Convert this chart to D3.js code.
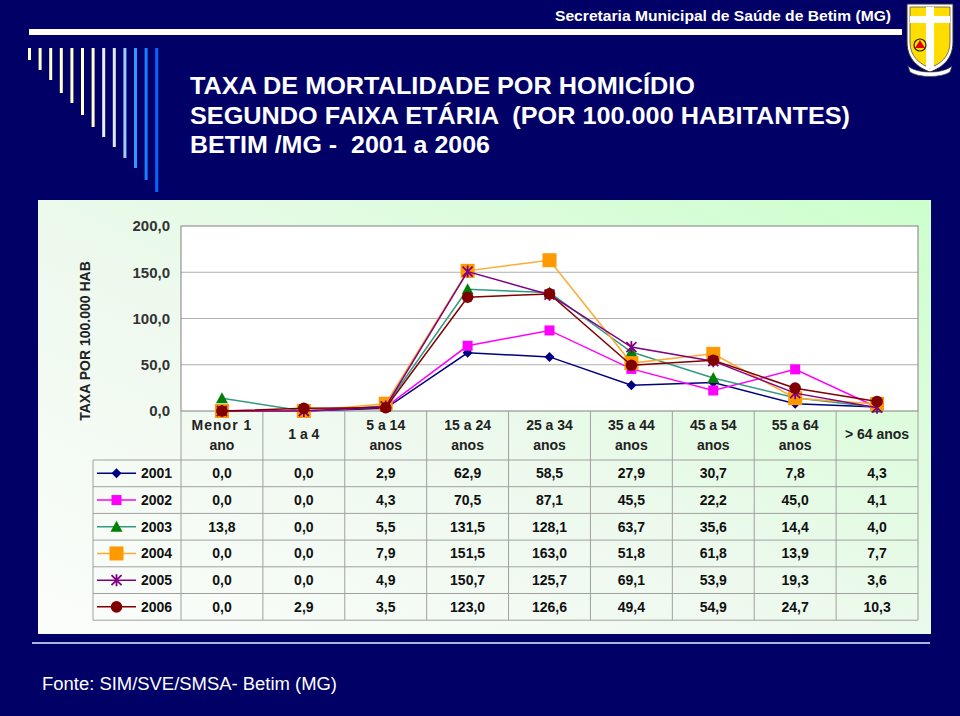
<!DOCTYPE html>
<html><head><meta charset="utf-8">
<script src="https://cdn.jsdelivr.net/npm/d3@7"></script>
<style>html,body{margin:0;padding:0;background:#000066;}svg{display:block;}</style>
</head><body>
<svg id="c" width="960" height="716"></svg>
<script>
const categories = ["Menor 1\nano","1 a 4","5 a 14\nanos","15 a 24\nanos","25 a 34\nanos","35 a 44\nanos","45 a 54\nanos","55 a 64\nanos","> 64 anos"];
const years = ["2001","2002","2003","2004","2005","2006"];
const v2001 = [0.0,0.0,2.9,62.9,58.5,27.9,30.7,7.8,4.3];
const v2002 = [0.0,0.0,4.3,70.5,87.1,45.5,22.2,45.0,4.1];
const v2003 = [13.8,0.0,5.5,131.5,128.1,63.7,35.6,14.4,4.0];
const v2004 = [0.0,0.0,7.9,151.5,163.0,51.8,61.8,13.9,7.7];
const v2005 = [0.0,0.0,4.9,150.7,125.7,69.1,53.9,19.3,3.6];
const v2006 = [0.0,2.9,3.5,123.0,126.6,49.4,54.9,24.7,10.3];
const yTicks = [0,50,100,150,200];

const seriesValues = [v2001,v2002,v2003,v2004,v2005,v2006];
const lineColors = ["#000080","#ff00ff","#339980","#ffaa33","#800080","#800000"];
const markColors = ["#000080","#ff00ff","#008000","#ff9900","#800080","#800000"];
const markTypes = ["diamond","square","triangle","bigsquare","star","circle"];

const fmt = v => v.toFixed(1).replace(".", ",");
const svg = d3.select("#c");
const defs = svg.append("defs");
const font = "'Liberation Sans',Arial,sans-serif";

svg.append("rect").attr("width",960).attr("height",716).attr("fill","#000066");

// header
svg.append("text").attr("x",891).attr("y",21).attr("text-anchor","end")
  .attr("fill","#ffffff").attr("font-family",font)
  .attr("font-weight","bold").attr("font-size",14)
  .attr("textLength",336).attr("lengthAdjust","spacingAndGlyphs")
  .text("Secretaria Municipal de Saúde de Betim (MG)");
svg.append("rect").attr("x",29).attr("y",29).attr("width",873).attr("height",6).attr("fill","#ffffff");

// decorative stripes
const stripeEnds = [60,70,80,93,103,115,127,137,147,158,168,180,192];
const stripeCols = ["#ffffcc","#ffffcc","#ffffcc","#ffffcc","#ffffcc","#ffffcc","#ffffcc","#e6f0ff","#ddeaff","#99ccff","#3399ff","#1a80ff","#0066ff"];
svg.append("g").selectAll("rect").data(stripeEnds).join("rect")
  .attr("x",(d,i)=>28+i*10.6).attr("y",48).attr("width",3)
  .attr("height",d=>d-48).attr("fill",(d,i)=>stripeCols[i]);

// title
const titleLines = ["TAXA DE MORTALIDADE POR HOMICÍDIO","SEGUNDO FAIXA ETÁRIA  (POR 100.000 HABITANTES)","BETIM /MG -  2001 a 2006"];
const titleW = [505,660,300];
const titleY = [94,124,153];
svg.append("g").selectAll("text").data(titleLines).join("text")
  .attr("x",190).attr("y",(d,i)=>titleY[i]).attr("fill","#ffffff")
  .attr("font-family",font).attr("font-weight","bold")
  .attr("font-size",23).attr("textLength",(d,i)=>titleW[i]).attr("lengthAdjust","spacingAndGlyphs")
  .attr("xml:space","preserve")
  .text(d=>d);

// logo
const logo = svg.append("g").attr("transform","translate(905,2)");
logo.append("path").attr("d","M2,2 H48 V40 C48,58 36,66 25,70 C14,66 2,58 2,40 Z")
  .attr("fill","#ffffff").attr("stroke","#333").attr("stroke-width",1);
logo.append("path").attr("d","M5,5 H45 V40 C45,55 35,62 25,66 C15,62 5,55 5,40 Z")
  .attr("fill","#ffdd00").attr("stroke","#555").attr("stroke-width",0.8);
logo.append("rect").attr("x",21).attr("y",5).attr("width",8).attr("height",61).attr("fill","#ffffff");
logo.append("rect").attr("x",5).attr("y",14).attr("width",40).attr("height",7).attr("fill","#ffffff");
logo.append("circle").attr("cx",15).attr("cy",43).attr("r",6).attr("fill","#ffdd00").attr("stroke","#222").attr("stroke-width",1.2);
logo.append("path").attr("d","M15,38 L20,46 L10,46 Z").attr("fill","#e00000");
logo.append("path").attr("d","M3,64 C12,72 38,72 47,64 L45,70 C36,76 14,76 5,70 Z").attr("fill","#ffffff").attr("stroke","#444").attr("stroke-width",0.7);

// chart panel
const grad = defs.append("linearGradient").attr("id","pg").attr("x1","0").attr("y1","1").attr("x2","1").attr("y2","0");
grad.append("stop").attr("offset","0").attr("stop-color","#fbfdfb");
grad.append("stop").attr("offset","0.45").attr("stop-color","#eef9ee");
grad.append("stop").attr("offset","1").attr("stop-color","#ccffcc");
svg.append("rect").attr("x",38).attr("y",200).attr("width",893).attr("height",434).attr("fill","url(#pg)");
svg.append("rect").attr("x",32).attr("y",642).attr("width",898).attr("height",2).attr("fill","#aab4e0");

// scales
const x = d3.scaleBand().domain(categories).range([181,918]);
const cx = c => x(c) + x.bandwidth()/2;
const y = d3.scaleLinear().domain([0,200]).range([411,226]);

svg.append("rect").attr("x",181).attr("y",226).attr("width",737).attr("height",185).attr("fill","#ffffff");

svg.append("g").selectAll("line").data(yTicks.filter(t=>t>0 && t<200)).join("line")
  .attr("x1",181).attr("x2",918).attr("y1",d=>y(d)).attr("y2",d=>y(d))
  .attr("stroke","#b0b0b0").attr("stroke-width",1);

const yAxis = d3.axisLeft(y).tickValues(yTicks).tickFormat(fmt).tickSize(0).tickPadding(11);
const ga = svg.append("g").attr("transform","translate(181,0)").call(yAxis);
ga.select(".domain").remove();
ga.selectAll("text").attr("font-family",font).attr("font-size",15).attr("font-weight","bold").attr("fill","#333");

svg.append("text").attr("transform","translate(90,341) rotate(-90)").attr("text-anchor","middle")
  .attr("font-family",font).attr("font-size",14).attr("font-weight","bold").attr("fill","#222")
  .text("TAXA POR 100.000 HAB");

// table grid
const rowTop = 460, rowH = 26.7;
const tg = svg.append("g").attr("stroke","#a0a0a0").attr("stroke-width",1).attr("fill","none");
tg.append("rect").attr("x",181).attr("y",226).attr("width",737).attr("height",185).attr("stroke","#808080");
const colEdges = categories.map(c=>x(c)).concat([918]);
tg.selectAll("line.col").data(colEdges).join("line").attr("class","col")
  .attr("x1",d=>d).attr("x2",d=>d).attr("y1",411).attr("y2",rowTop+rowH*6);
const rows = d3.range(7);
tg.selectAll("line.row").data(rows).join("line").attr("class","row")
  .attr("x1",93).attr("x2",918).attr("y1",d=>rowTop+d*rowH).attr("y2",d=>rowTop+d*rowH);
tg.append("line").attr("x1",93).attr("x2",93).attr("y1",rowTop).attr("y2",rowTop+rowH*6);

// category labels
const cl = svg.append("g").attr("font-family",font).attr("font-size",14).attr("font-weight","bold").attr("fill","#222").attr("text-anchor","middle");
categories.forEach((c,ci)=>{
  const parts = c.split("\n");
  const t = cl.append("text").attr("x",cx(c));
  if (parts.length===1) t.attr("y",439).text(parts[0]);
  else parts.forEach((p,i)=>t.append("tspan").attr("x",cx(c)).attr("y",430+i*19.5)
    .attr("letter-spacing", (ci===0 && i===0) ? 1 : 0).text(p));
});

function marker(g, type, color, px, py){
  switch(type){
    case "diamond": g.append("path").attr("d",`M${px},${py-5} L${px+5},${py} L${px},${py+5} L${px-5},${py} Z`).attr("fill",color); break;
    case "square": g.append("rect").attr("x",px-5).attr("y",py-5).attr("width",10).attr("height",10).attr("fill",color); break;
    case "triangle": g.append("path").attr("d",`M${px},${py-6} L${px+6},${py+5} L${px-6},${py+5} Z`).attr("fill",color); break;
    case "bigsquare": g.append("rect").attr("x",px-7).attr("y",py-7).attr("width",14).attr("height",14).attr("fill",color); break;
    case "star": {
      const r=5;
      g.append("path").attr("d",`M${px-r},${py-r} L${px+r},${py+r} M${px-r},${py+r} L${px+r},${py-r} M${px},${py-r-1} L${px},${py+r+1}`)
        .attr("stroke",color).attr("stroke-width",1.8).attr("fill","none"); break;
    }
    case "circle": g.append("circle").attr("cx",px).attr("cy",py).attr("r",5.8).attr("fill",color); break;
  }
}

const line = d3.line().x((d,i)=>cx(categories[i])).y(d=>y(d));
const sg = svg.append("g");
seriesValues.forEach((vals,si)=>{
  const g = sg.append("g");
  g.append("path").attr("d",line(vals)).attr("fill","none").attr("stroke",lineColors[si]).attr("stroke-width",1.5);
  vals.forEach((v,i)=>marker(g, markTypes[si], markColors[si], cx(categories[i]), y(v)));
});

const lg = svg.append("g");
years.forEach((yr,si)=>{
  const cy = rowTop + si*rowH + rowH/2;
  lg.append("line").attr("x1",97).attr("x2",136).attr("y1",cy).attr("y2",cy).attr("stroke",lineColors[si]).attr("stroke-width",1.5);
  marker(lg, markTypes[si], markColors[si], 116.5, cy);
  lg.append("text").attr("x",141).attr("y",cy+5).attr("font-family",font).attr("font-size",14).attr("font-weight","bold").attr("fill","#111").text(yr);
  seriesValues[si].forEach((v,i)=>{
    lg.append("text").attr("x",cx(categories[i])).attr("y",cy+5).attr("text-anchor","middle")
      .attr("font-family",font).attr("font-size",14).attr("font-weight","bold").attr("fill","#111").text(fmt(v));
  });
});

svg.append("text").attr("x",42).attr("y",690).attr("fill","#ffffff")
  .attr("font-family",font).attr("font-size",18)
  .attr("textLength",295).attr("lengthAdjust","spacingAndGlyphs")
  .text("Fonte: SIM/SVE/SMSA- Betim (MG)");
</script>
</body></html>
